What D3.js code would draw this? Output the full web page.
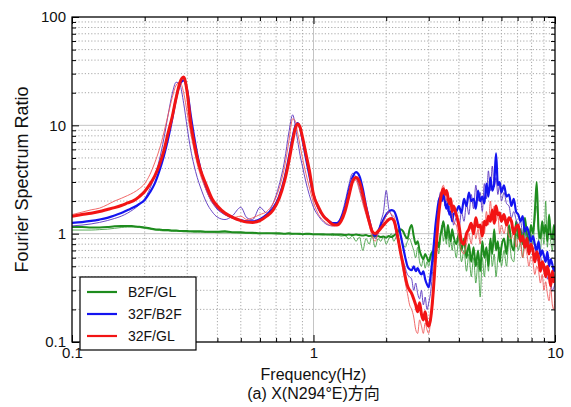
<!DOCTYPE html>
<html>
<head>
<meta charset="utf-8">
<script src="https://cdn.jsdelivr.net/npm/d3@7"></script>
<style>
  body { margin: 0; background: #fff; }
  svg text { font-family: "Liberation Sans", Arial, sans-serif; fill: #111; }
</style>
</head>
<body>
<div id="chart"></div>
<script>
const width = 571,
  height = 407;
const margin = { top: 17, right: 16, bottom: 65, left: 72 };

// frequency (Hz)
const freq = [
  0.10, 0.11, 0.12, 0.13, 0.14, 0.15, 0.16, 0.17, 0.18, 0.19, 0.20, 0.21, 0.22, 0.23, 0.24, 0.25, 0.26, 0.27, 0.28, 0.29, 0.30, 0.31, 0.32, 0.33, 0.34,
  0.36, 0.38, 0.40, 0.43, 0.46, 0.50, 0.53, 0.56, 0.60, 0.64, 0.68, 0.72, 0.76, 0.79, 0.82, 0.84, 0.86, 0.88, 0.90, 0.93, 0.96, 1.00,
  1.05, 1.10, 1.15, 1.20, 1.25, 1.30, 1.35, 1.40, 1.45, 1.50, 1.55, 1.60, 1.65, 1.70, 1.75, 1.80, 1.85, 1.90, 1.95, 2.00, 2.05, 2.10, 2.15, 2.20, 2.25, 2.30, 2.35, 2.40, 2.45, 2.50,
  2.55, 2.60, 2.65, 2.70, 2.75, 2.80, 2.85, 2.90, 2.95, 3.00, 3.05, 3.10, 3.15, 3.20, 3.25, 3.30, 3.35, 3.40, 3.45, 3.50, 3.55, 3.60, 3.65, 3.70, 3.75, 3.80,
  3.9, 4.0, 4.1, 4.2, 4.3, 4.4, 4.5, 4.6, 4.7, 4.8, 4.9, 5.0, 5.1, 5.2, 5.3, 5.4, 5.5, 5.6, 5.7, 5.8, 5.9, 6.0,
  6.15, 6.3, 6.45, 6.6, 6.75, 6.9, 7.05, 7.2, 7.35, 7.5, 7.65, 7.8, 7.95, 8.1, 8.25, 8.4, 8.55, 8.7, 8.85, 9.0, 9.15, 9.3, 9.45, 9.6, 9.75, 9.9, 10.0,
];

// B2F/GL
const greenA = [
  1.15, 1.15, 1.14, 1.14, 1.15, 1.17, 1.18, 1.18, 1.17, 1.16, 1.14, 1.12, 1.1, 1.09, 1.08, 1.08, 1.07, 1.07, 1.06, 1.06, 1.06, 1.05, 1.05, 1.05, 1.05,
  1.04, 1.04, 1.04, 1.05, 1.03, 1.03, 1.02, 1.02, 1.01, 1.01, 1.01, 1.01, 1.0, 1.01, 1.0, 1.0, 1.0, 1.0, 0.99, 1.0, 1.0, 0.99,
  0.99, 0.99, 0.98, 0.99, 0.98, 0.98, 0.97, 0.98, 0.97, 0.98, 0.97, 0.96, 0.97, 0.95, 0.96, 0.94, 0.95, 0.93, 0.94, 0.92, 0.95, 0.93, 0.96, 1.0, 1.05, 1.1, 1.05, 0.95, 0.9, 1.1,
  1.2, 0.95, 0.8, 0.85, 0.7, 0.62, 0.58, 0.65, 0.6, 0.55, 0.62, 0.68, 0.6, 0.72, 0.85, 0.75, 0.95, 1.1, 1.3, 1.05, 0.9, 1.2, 1.0, 0.85, 1.1, 0.95,
  0.8, 1.0, 0.7, 0.9, 0.6, 0.8, 0.55, 0.75, 0.5, 0.7, 0.45, 0.85, 0.6, 0.75, 0.5, 0.9, 0.65, 1.1, 0.7, 0.85, 0.55, 0.75,
  0.9, 0.65, 1.2, 0.8, 0.7, 1.3, 0.9, 1.1, 0.8, 1.4, 1.0, 0.85, 1.2, 1.0, 1.6, 3.0, 1.1, 0.9, 1.3, 1.0, 1.2, 0.85, 1.5, 1.0, 0.9, 1.2, 0.95,
];
const greenB = [
  1.08, 1.08, 1.08, 1.09, 1.1, 1.12, 1.14, 1.15, 1.15, 1.14, 1.12, 1.1, 1.08, 1.07, 1.06, 1.06, 1.05, 1.05, 1.05, 1.04, 1.04, 1.04, 1.03, 1.03, 1.03,
  1.03, 1.03, 1.02, 1.02, 1.02, 1.01, 1.01, 1.0, 1.0, 1.01, 1.0, 0.99, 1.0, 0.99, 0.99, 1.0, 0.99, 0.98, 0.99, 0.98, 0.98, 0.98,
  0.98, 0.97, 0.98, 0.96, 0.97, 0.95, 0.96, 0.9, 0.95, 0.85, 0.93, 0.7, 0.9, 0.8, 0.95, 0.75, 0.9, 0.85, 0.95, 0.8, 0.9, 1.0, 0.85, 0.95, 1.1, 0.9, 0.8, 0.75, 0.85, 0.9,
  0.8, 0.7, 0.6, 0.75, 0.55, 0.5, 0.6, 0.48, 0.55, 0.5, 0.58, 0.65, 0.55, 0.7, 0.8, 0.65, 0.9, 1.2, 0.85, 1.0, 0.8, 1.1, 0.75, 0.9, 0.7, 0.85,
  0.6, 0.9, 0.55, 0.7, 0.45, 0.65, 0.4, 0.6, 0.35, 0.55, 0.26, 0.6, 0.4, 0.7, 0.45, 0.8, 0.5, 0.65, 0.4, 0.6, 0.75, 0.5,
  0.7, 0.5, 0.9, 0.6, 0.55, 1.0, 0.7, 0.85, 0.6, 1.1, 0.75, 0.65, 1.0, 0.8, 1.3, 1.8, 0.9, 0.7, 1.1, 0.8, 2.0, 0.75, 1.2, 0.85, 0.7, 1.0, 0.8,
];

// 32F/B2F
const blueA = [
  1.26, 1.28, 1.31, 1.35, 1.40, 1.47, 1.55, 1.65, 1.75, 1.88, 2.05, 2.4, 2.9, 3.8, 5.2, 7.5, 11.5, 18, 24, 26, 21, 12.5, 8, 5.4, 4.0,
  2.6, 2.0, 1.72, 1.52, 1.42, 1.33, 1.3, 1.3, 1.36, 1.5, 1.72, 2.2, 3.3, 5.0, 7.8, 9.8, 10.5, 9.4, 7.4, 5.0, 3.5, 2.3,
  1.7, 1.45, 1.32, 1.25, 1.25, 1.38, 1.75, 2.5, 3.3, 3.7, 3.4, 2.6, 1.8, 1.35, 1.05, 0.96, 1.05, 1.2, 1.35, 1.5, 1.6, 1.65, 1.62, 1.45, 1.2, 0.95, 0.75, 0.6, 0.5, 0.47,
  0.46, 0.5, 0.45, 0.48, 0.44, 0.42, 0.45, 0.38, 0.34, 0.32, 0.4, 0.55, 0.8, 1.2, 1.6, 2.0, 2.2, 2.0, 2.3, 2.0, 1.7, 1.9, 1.5, 1.6, 1.3, 1.5,
  1.6, 1.8, 1.55, 2.1, 1.8, 2.4, 2.0, 2.1, 1.7, 2.5, 2.0, 2.2, 1.9, 2.9, 2.2, 3.3, 2.5, 2.9, 5.5, 2.8, 3.0, 2.4,
  2.8, 2.2, 2.3, 1.8, 2.1, 1.6, 1.5, 1.3, 1.45, 1.05, 1.15, 1.0, 0.85, 0.95, 0.8, 0.7, 0.85, 0.62, 0.7, 0.62, 0.55, 0.68, 0.5, 0.58, 0.52, 0.45, 0.5,
];
const blueB = [
  1.18, 1.2, 1.23, 1.27, 1.32, 1.38, 1.45, 1.55, 1.68, 1.85, 2.1, 2.6, 3.4, 4.8, 7.5, 12.5, 19.5, 25, 23.5, 16, 9.5, 6.0, 4.3, 3.3, 2.7,
  1.95, 1.6, 1.42, 1.35, 1.45, 1.75, 1.4, 1.35, 1.75, 1.55, 1.9, 2.8, 4.8, 8.5, 12.5, 10, 7.2, 5.3, 4.2, 3.0, 2.3, 1.75,
  1.45, 1.28, 1.2, 1.18, 1.25, 1.45, 1.95, 2.8, 3.6, 3.3, 2.6, 2.0, 1.55, 1.25, 1.05, 0.9, 1.0, 1.3, 1.6, 2.5, 1.7, 1.5, 1.3, 1.0, 0.8, 0.65, 0.55, 0.48, 0.42, 0.4,
  0.38, 0.3, 0.35, 0.28, 0.25, 0.3, 0.22, 0.26, 0.2, 0.23, 0.28, 0.4, 0.65, 1.0, 1.5, 1.9, 2.4, 2.0, 2.6, 1.8, 2.1, 1.6, 1.9, 1.4, 1.6, 1.2,
  1.4, 1.1, 1.6, 1.3, 1.9, 1.5, 2.3, 1.7, 2.8, 2.0, 2.4, 1.6, 2.9, 2.1, 3.8, 2.5, 4.2, 2.7, 3.3, 2.3, 2.9, 2.0,
  2.4, 1.9, 1.8, 1.4, 1.6, 1.35, 1.2, 1.3, 1.0, 1.1, 0.85, 0.8, 0.9, 0.68, 0.75, 0.6, 0.55, 0.62, 0.5, 0.45, 0.5, 0.38, 0.42, 0.36, 0.3, 0.32, 0.35,
];

// 32F/GL
const redA = [
  1.45, 1.50, 1.54, 1.60, 1.67, 1.74, 1.82, 1.92, 2.02, 2.2, 2.45, 2.85, 3.4, 4.3, 5.8, 8.5, 12, 18, 25, 28, 20, 10.5, 7, 5, 3.9,
  2.8, 2.1, 1.8, 1.55, 1.42, 1.32, 1.28, 1.27, 1.32, 1.45, 1.65, 2.1, 3.1, 4.6, 7.2, 9.3, 10.3, 9.6, 7.8, 5.5, 3.9, 2.3,
  1.75, 1.45, 1.32, 1.22, 1.2, 1.3, 1.6, 2.2, 3.0, 3.3, 3.0, 2.3, 1.7, 1.3, 1.05, 1.0, 1.05, 1.12, 1.2, 1.28, 1.35, 1.38, 1.32, 1.1, 0.85, 0.65, 0.52, 0.4, 0.33, 0.3,
  0.28, 0.25, 0.22, 0.19, 0.23, 0.18, 0.16, 0.19, 0.15, 0.14, 0.16, 0.22, 0.35, 0.6, 1.0, 1.5, 2.0, 2.4, 2.6, 2.3, 2.5, 2.2, 1.9, 2.1, 1.6, 1.8,
  1.5, 1.2, 0.85, 0.8, 1.0, 1.1, 1.25, 1.0, 1.4, 1.15, 1.2, 0.95, 1.3, 1.2, 1.45, 1.3, 1.65, 1.25, 1.8, 1.5, 1.55, 1.3,
  1.5, 1.2, 1.4, 1.3, 1.0, 1.15, 1.2, 0.85, 0.95, 0.75, 0.9, 0.65, 0.8, 0.7, 0.55, 0.68, 0.6, 0.45, 0.55, 0.5, 0.4, 0.5, 0.42, 0.33, 0.45, 0.36, 0.4,
];
const redB = [
  1.5, 1.58, 1.66, 1.72, 1.85, 2.0, 2.12, 2.25, 2.4, 2.6, 2.9, 3.5, 4.5, 6.0, 8.5, 12.5, 18, 23.5, 25, 20, 13, 8.5, 6, 4.4, 3.5,
  2.5, 1.95, 1.7, 1.5, 1.4, 1.45, 1.35, 1.4, 1.5, 1.6, 1.9, 2.6, 4.2, 7, 11.5, 11, 8.5, 6.5, 5, 3.6, 2.7, 1.95,
  1.5, 1.32, 1.22, 1.18, 1.2, 1.35, 1.7, 2.4, 3.2, 3.1, 2.5, 1.9, 1.5, 1.2, 0.95, 0.85, 1.0, 1.1, 1.3, 1.45, 1.6, 1.5, 1.45, 1.2, 0.9, 0.6, 0.45, 0.35, 0.28, 0.22,
  0.2, 0.17, 0.13, 0.12, 0.16, 0.14, 0.12, 0.15, 0.13, 0.12, 0.15, 0.2, 0.3, 0.5, 0.9, 1.4, 2.0, 2.6, 2.8, 2.4, 2.0, 2.4, 1.8, 2.0, 1.5, 1.3,
  1.2, 0.9, 0.7, 0.65, 0.8, 1.0, 0.8, 1.2, 0.9, 1.1, 0.8, 1.3, 1.0, 1.6, 1.2, 2.0, 1.4, 1.8, 1.3, 1.5, 1.0, 1.2,
  1.0, 1.25, 0.95, 0.9, 1.05, 0.75, 0.9, 0.8, 0.6, 0.75, 0.65, 0.5, 0.62, 0.55, 0.42, 0.5, 0.45, 0.35, 0.42, 0.3, 0.36, 0.28, 0.24, 0.32, 0.22, 0.2, 0.3,
];

const legendNames = ["B2F/GL", "32F/B2F", "32F/GL"];
const xMajor = [0.1, 1, 10];
const yMajor = [0.1, 1, 10, 100];

const colors = { green: "#1e8c1e", blue: "#1414f0", red: "#f21414" };

// drawing order: green under blue under red
const traces = [
  { values: greenB, color: "#3c9c3c", width: 1, opacity: 0.85 },
  { values: greenA, color: colors.green, width: 2, opacity: 1 },
  { values: blueB, color: "#5a34c0", width: 1, opacity: 0.9 },
  { values: blueA, color: colors.blue, width: 2.2, opacity: 1 },
  { values: redB, color: "#f05a5a", width: 1, opacity: 0.9 },
  { values: redA, color: colors.red, width: 3, opacity: 1 },
];

const x = d3
  .scaleLog()
  .domain([0.1, 10])
  .range([margin.left, width - margin.right]);
const y = d3
  .scaleLog()
  .domain([0.1, 100])
  .range([height - margin.bottom, margin.top]);

const svg = d3
  .select("#chart")
  .append("svg")
  .attr("width", width)
  .attr("height", height)
  .attr("viewBox", [0, 0, width, height]);

const xMinor = x.ticks().filter((d) => !xMajor.some((m) => Math.abs(m - d) < 1e-9));
const yMinor = y.ticks().filter((d) => !yMajor.some((m) => Math.abs(m - d) < 1e-9));

// grid
const grid = svg.append("g");
grid
  .selectAll(".vminor")
  .data(xMinor)
  .join("line")
  .attr("x1", (d) => x(d))
  .attr("x2", (d) => x(d))
  .attr("y1", margin.top)
  .attr("y2", height - margin.bottom)
  .attr("stroke", "#a8a8a8")
  .attr("stroke-dasharray", "1.2,2");
grid
  .selectAll(".hminor")
  .data(yMinor)
  .join("line")
  .attr("y1", (d) => y(d))
  .attr("y2", (d) => y(d))
  .attr("x1", margin.left)
  .attr("x2", width - margin.right)
  .attr("stroke", "#a8a8a8")
  .attr("stroke-dasharray", "1.2,2");
grid
  .selectAll(".vmajor")
  .data(xMajor)
  .join("line")
  .attr("x1", (d) => x(d))
  .attr("x2", (d) => x(d))
  .attr("y1", margin.top)
  .attr("y2", height - margin.bottom)
  .attr("stroke", "#c4c4c4");
grid
  .selectAll(".hmajor")
  .data(yMajor)
  .join("line")
  .attr("y1", (d) => y(d))
  .attr("y2", (d) => y(d))
  .attr("x1", margin.left)
  .attr("x2", width - margin.right)
  .attr("stroke", "#c4c4c4");

// curves
svg
  .append("clipPath")
  .attr("id", "plot-clip")
  .append("rect")
  .attr("x", margin.left)
  .attr("y", margin.top)
  .attr("width", width - margin.left - margin.right)
  .attr("height", height - margin.top - margin.bottom);

const line = d3
  .line()
  .defined((d, i) => freq[i] !== undefined)
  .x((d, i) => x(freq[i]))
  .y((d) => y(d))
  .curve(d3.curveMonotoneX);

svg
  .append("g")
  .attr("clip-path", "url(#plot-clip)")
  .selectAll("path")
  .data(traces)
  .join("path")
  .attr("fill", "none")
  .attr("stroke", (d) => d.color)
  .attr("stroke-width", (d) => d.width)
  .attr("stroke-opacity", (d) => d.opacity)
  .attr("stroke-linejoin", "round")
  .attr("d", (d) => line(d.values));

// axes, ticks pointing inward on all sides
const fmt = (d) => (d < 1 ? "0.1" : String(d));
const bottom = height - margin.bottom;
const right = width - margin.right;

function styleAxis(g) {
  g.select(".domain").remove();
  g.selectAll(".tick line").attr("stroke", "#000");
  g.selectAll("text").attr("font-size", 15).attr("fill", "#111");
}

svg
  .append("g")
  .attr("transform", `translate(0,${bottom})`)
  .call(d3.axisBottom(x).tickValues(xMajor).tickFormat(fmt).tickSizeInner(-7).tickSizeOuter(0).tickPadding(5))
  .call(styleAxis);
svg
  .append("g")
  .attr("transform", `translate(0,${bottom})`)
  .call(d3.axisBottom(x).tickValues(xMinor).tickFormat("").tickSizeInner(-4).tickSizeOuter(0))
  .call(styleAxis);
svg
  .append("g")
  .attr("transform", `translate(0,${margin.top})`)
  .call(d3.axisTop(x).tickValues(xMajor).tickFormat("").tickSizeInner(-7).tickSizeOuter(0))
  .call(styleAxis);
svg
  .append("g")
  .attr("transform", `translate(0,${margin.top})`)
  .call(d3.axisTop(x).tickValues(xMinor).tickFormat("").tickSizeInner(-4).tickSizeOuter(0))
  .call(styleAxis);

svg
  .append("g")
  .attr("transform", `translate(${margin.left},0)`)
  .call(d3.axisLeft(y).tickValues(yMajor).tickFormat(fmt).tickSizeInner(-7).tickSizeOuter(0).tickPadding(6))
  .call(styleAxis);
svg
  .append("g")
  .attr("transform", `translate(${margin.left},0)`)
  .call(d3.axisLeft(y).tickValues(yMinor).tickFormat("").tickSizeInner(-4).tickSizeOuter(0))
  .call(styleAxis);
svg
  .append("g")
  .attr("transform", `translate(${right},0)`)
  .call(d3.axisRight(y).tickValues(yMajor).tickFormat("").tickSizeInner(-7).tickSizeOuter(0))
  .call(styleAxis);
svg
  .append("g")
  .attr("transform", `translate(${right},0)`)
  .call(d3.axisRight(y).tickValues(yMinor).tickFormat("").tickSizeInner(-4).tickSizeOuter(0))
  .call(styleAxis);

// frame
svg
  .append("rect")
  .attr("x", margin.left)
  .attr("y", margin.top)
  .attr("width", right - margin.left)
  .attr("height", bottom - margin.top)
  .attr("fill", "none")
  .attr("stroke", "#000")
  .attr("stroke-width", 1.2);

// titles
svg
  .append("text")
  .attr("x", (margin.left + right) / 2)
  .attr("y", 380)
  .attr("text-anchor", "middle")
  .attr("font-size", 16)
  .text("Frequency(Hz)");
svg
  .append("text")
  .attr("x", (margin.left + right) / 2)
  .attr("y", 399)
  .attr("text-anchor", "middle")
  .attr("font-size", 16)
  .style("font-family", '"Liberation Sans", "Noto Sans CJK JP", sans-serif')
  .text("(a) X(N294°E)方向");
svg
  .append("text")
  .attr("transform", `translate(28,${(margin.top + bottom) / 2}) rotate(-90)`)
  .attr("text-anchor", "middle")
  .attr("font-size", 18)
  .text("Fourier Spectrum Ratio");

// legend
const legend = svg.append("g");
legend
  .append("rect")
  .attr("x", 80)
  .attr("y", 277)
  .attr("width", 116)
  .attr("height", 73)
  .attr("fill", "#fff")
  .attr("stroke", "#000")
  .attr("stroke-width", 1.2);
const legendColors = [colors.green, colors.blue, colors.red];
const items = legend
  .selectAll(".item")
  .data(legendNames)
  .join("g")
  .attr("transform", (d, i) => `translate(0,${292 + i * 22})`);
items
  .append("line")
  .attr("x1", 87)
  .attr("x2", 117)
  .attr("stroke", (d, i) => legendColors[i])
  .attr("stroke-width", 2.2);
items
  .append("text")
  .attr("x", 128)
  .attr("dy", "0.36em")
  .attr("font-size", 14)
  .text((d) => d);
</script>
</body>
</html>
